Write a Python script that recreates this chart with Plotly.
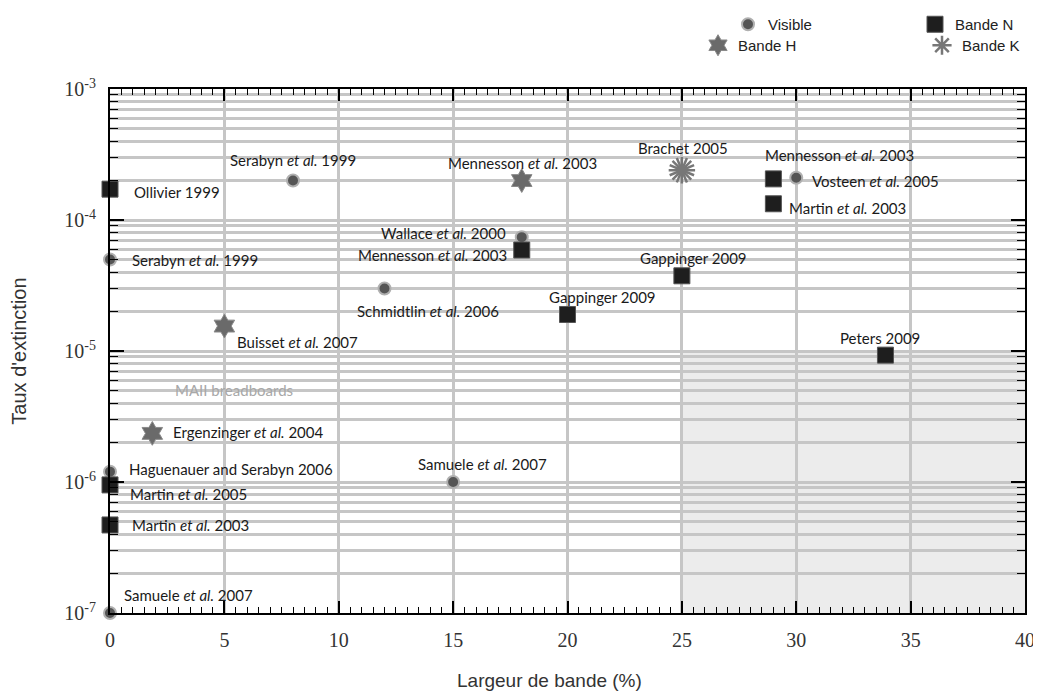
"""Taux d'extinction vs largeur de bande - recreation with plotly"""

import numpy as np
import plotly.graph_objects as go

# ---- data ----
vis_x = [8, 0, 18, 12, 30, 0, 15, 0]
vis_y = [2.0e-4, 5.0e-5, 7.4e-5, 3.0e-5, 2.1e-4, 1.2e-6, 1.0e-6, 1.0e-7]
vis_lab = [
    "Serabyn <i>et al.</i> 1999", "Serabyn <i>et al.</i> 1999",
    "Wallace <i>et al.</i> 2000", "Schmidtlin <i>et al.</i> 2006",
    "Vosteen <i>et al.</i> 2005", "Haguenauer and Serabyn 2006",
    "Samuele <i>et al.</i> 2007", "Samuele <i>et al.</i> 2007",
]

h_x = [18, 5, 1.85]
h_y = [2.0e-4, 1.55e-5, 2.35e-6]
h_lab = ["Mennesson <i>et al.</i> 2003", "Buisset <i>et al.</i> 2007",
         "Ergenzinger <i>et al.</i> 2004"]

k_x = [25]
k_y = [2.4e-4]
k_lab = ["Brachet 2005"]

n_x = [0, 18, 20, 25, 29, 29, 33.9, 0, 0]
n_y = [1.72e-4, 5.9e-5, 1.9e-5, 3.75e-5, 2.06e-4, 1.33e-4, 9.3e-6, 9.5e-7, 4.7e-7]
n_lab = [
    "Ollivier 1999", "Mennesson <i>et al.</i> 2003", "Gappinger 2009",
    "Gappinger 2009", "Mennesson <i>et al.</i> 2003", "Martin <i>et al.</i> 2003",
    "Peters 2009", "Martin <i>et al.</i> 2005", "Martin <i>et al.</i> 2003",
]

x_ticks = [0, 5, 10, 15, 20, 25, 30, 35, 40]
y_ticks = [1e-7, 1e-6, 1e-5, 1e-4, 1e-3]
y_ticktext = ["10<sup>-7</sup>", "10<sup>-6</sup>", "10<sup>-5</sup>",
              "10<sup>-4</sup>", "10<sup>-3</sup>"]

# label placement (anchor, x shift px, y shift px)
vis_pos = [("center", 0, 21), ("left", 20, -1), ("right", -14, 4), ("left", -30, -22),
           ("left", 14, -3), ("left", 17, 3), ("left", -37, 18), ("left", 12, 18)]
h_pos = [("center", 1, 18), ("left", 11, -16), ("left", 19, 1)]
k_pos = [("center", 1, 22)]
n_pos = [("left", 22, -3), ("right", -13, -5), ("left", -21, 17), ("left", -44, 18),
         ("left", -10, 24), ("left", 14, -4), ("center", -5, 17), ("left", 18, -9),
         ("left", 20, 0)]

LBL_FONT = dict(family="Lato", size=15, color="#1a1a1a")
GRID = "#c6c6c6"
LEG_FONT = dict(family="Liberation Sans", size=15, color="#222222")
FIG_W, FIG_H = 1033, 685  # page body adds an 8px margin

fig = go.Figure()

fig.add_trace(go.Scatter(
    x=vis_x, y=vis_y, mode="markers", name="Visible", legend="legend",
    marker=dict(symbol="circle", size=12, color="#555555",
                line=dict(color="#b0b0b0", width=2)),
    cliponaxis=False,
))
fig.add_trace(go.Scatter(
    x=h_x, y=h_y, mode="markers", name="Bande H", legend="legend3",
    marker=dict(symbol="hexagram", size=18, color="#6a6a6a",
                line=dict(color="#8a8a8a", width=1)),
    cliponaxis=False,
))
fig.add_trace(go.Scatter(
    x=n_x, y=n_y, mode="markers", name="Bande N", legend="legend2",
    marker=dict(symbol="square", size=16, color="#1e1e1e",
                line=dict(color="#555555", width=1)),
    cliponaxis=False,
))
fig.add_trace(go.Scatter(
    x=k_x, y=k_y, mode="markers", name="Bande K", legend="legend4",
    marker=dict(symbol="asterisk-open", size=22, color="#777777",
                line=dict(color="#777777", width=2.5)),
    cliponaxis=False,
))
# second rotated asterisk to get the starburst look
fig.add_trace(go.Scatter(
    x=k_x, y=k_y, mode="markers", showlegend=False, hoverinfo="skip",
    marker=dict(symbol="asterisk-open", size=22, angle=22.5, color="#777777",
                line=dict(color="#777777", width=2.5)),
    cliponaxis=False,
))

# point labels
for xs, ys, labs, pos in [(vis_x, vis_y, vis_lab, vis_pos), (h_x, h_y, h_lab, h_pos),
                          (k_x, k_y, k_lab, k_pos), (n_x, n_y, n_lab, n_pos)]:
    for xv, yv, t, (anc, dx, dy) in zip(xs, ys, labs, pos):
        fig.add_annotation(x=xv, y=np.log10(yv), text=t, showarrow=False,
                           xanchor=anc, yanchor="middle", xshift=dx, yshift=dy,
                           font=LBL_FONT)

fig.add_annotation(x=5.4, y=np.log10(5e-6), text="MAII breadboards", showarrow=False,
                   font=dict(family="Lato", size=15, color="#a8a8a8"))

# x axis title (sits a bit left of centre in the original)
fig.add_annotation(x=0.48, y=-0.128, xref="paper", yref="paper",
                   text="Largeur de bande (%)", showarrow=False, yanchor="middle",
                   font=dict(family="Liberation Sans", size=19, color="#333333"))

# shaded region
fig.add_shape(type="rect", x0=25, x1=40, y0=1e-7, y1=1e-5, xref="x", yref="y",
              fillcolor="#ececec", line=dict(width=0), layer="below")

fig.update_xaxes(
    range=[0, 40], tickvals=x_ticks, showgrid=True, gridcolor=GRID, gridwidth=2.5,
    showline=True, linecolor="black", linewidth=2, mirror="allticks",
    ticks="inside", ticklen=12, tickwidth=1.5, tickcolor="black",
    minor=dict(dtick=0.5, ticks="inside", ticklen=6, tickwidth=1, tickcolor="black",
               showgrid=False),
    tickfont=dict(family="Liberation Serif", size=20, color="#333333"),
    ticklabelstandoff=8, zeroline=False, automargin=False,
)
fig.update_yaxes(
    type="log", range=[-7, -3], tickvals=y_ticks, ticktext=y_ticktext,
    showgrid=True, gridcolor=GRID, gridwidth=3,
    showline=True, linecolor="black", linewidth=2, mirror="allticks",
    ticks="inside", ticklen=14, tickwidth=1.5, tickcolor="black",
    minor=dict(dtick="D1", ticks="inside", ticklen=8, tickwidth=1, tickcolor="black",
               showgrid=True, gridcolor=GRID, gridwidth=2.5),
    tickfont=dict(family="Liberation Serif", size=20, color="#333333"),
    ticklabelstandoff=8, zeroline=False, automargin=False,
    title=dict(text="Taux d'extinction",
               font=dict(family="Liberation Sans", size=20, color="#333333"),
               standoff=42),
)


def leg(x_px, y_px):
    # one legend box per symbol, placed in container pixels
    return dict(xref="container", yref="container", x=x_px / FIG_W, y=1 - y_px / FIG_H,
                xanchor="left", yanchor="top", font=LEG_FONT,
                bgcolor="rgba(0,0,0,0)")


fig.update_layout(
    width=FIG_W, height=FIG_H,
    margin=dict(l=102, r=16, t=81, b=80, autoexpand=False),
    plot_bgcolor="white", paper_bgcolor="white",
    legend=leg(720, 0),
    legend2=leg(907, 0),
    legend3=leg(690, 21),
    legend4=leg(914, 21),
)

fig.write_html("out.html")
